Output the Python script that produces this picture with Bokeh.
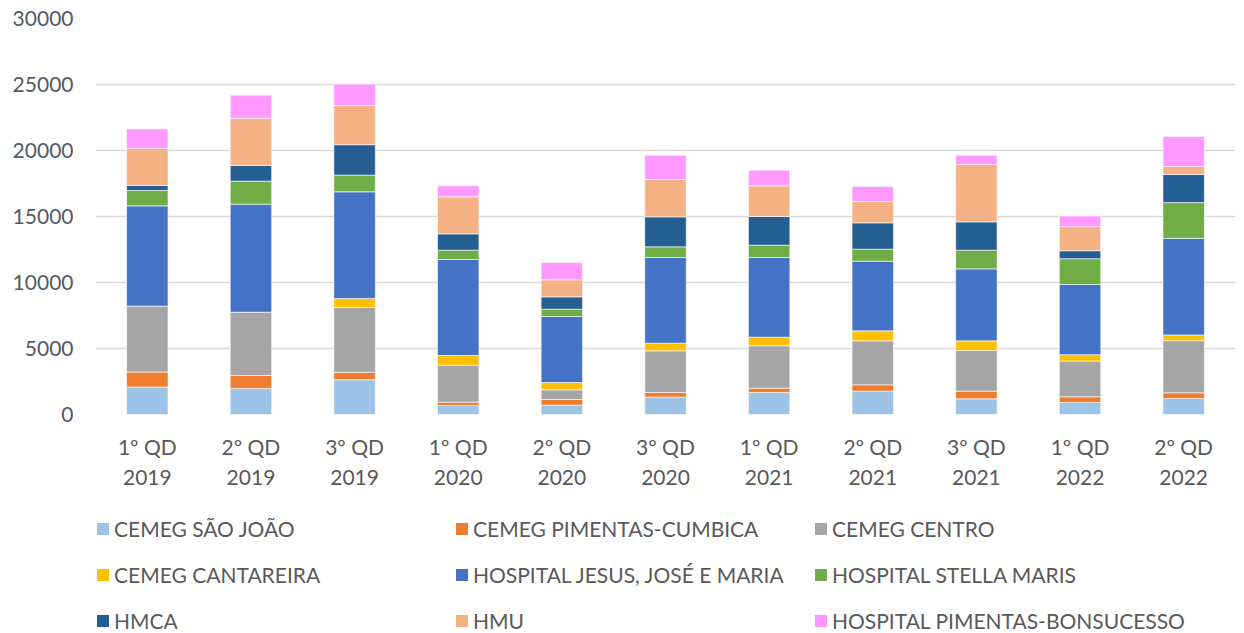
from bokeh.plotting import figure
from bokeh.layouts import column
from bokeh.models import ColumnDataSource, FactorRange, Range1d, FixedTicker, Legend, LegendItem
from bokeh.embed import file_html
from bokeh.resources import INLINE

categories = ["1º QD\n2019", "2º QD\n2019", "3º QD\n2019",
              "1º QD\n2020", "2º QD\n2020", "3º QD\n2020",
              "1º QD\n2021", "2º QD\n2021", "3º QD\n2021",
              "1º QD\n2022", "2º QD\n2022"]

series_names = ["CEMEG SÃO JOÃO", "CEMEG PIMENTAS-CUMBICA", "CEMEG CENTRO",
                "CEMEG CANTAREIRA", "HOSPITAL JESUS, JOSÉ E MARIA", "HOSPITAL STELLA MARIS",
                "HMCA", "HMU", "HOSPITAL PIMENTAS-BONSUCESSO"]

cemeg_sao_joao = [2077, 1976, 2634, 682, 707, 1313, 1667, 1768, 1187, 912, 1215]
cemeg_pimentas_cumbica = [1140, 988, 558, 252, 429, 354, 328, 479, 581, 430, 431]
cemeg_centro = [4990, 4787, 4914, 2803, 733, 3156, 3207, 3333, 3080, 2709, 3950]
cemeg_cantareira = [0, 0, 684, 732, 555, 581, 656, 758, 732, 481, 430]
hospital_jjm = [7600, 8182, 8080, 7272, 5000, 6489, 6035, 5277, 5454, 5317, 7318]
hospital_stella_maris = [1165, 1748, 1267, 707, 555, 808, 934, 909, 1414, 1950, 2709]
hmca = [380, 1190, 2305, 1238, 934, 2272, 2172, 1995, 2147, 608, 2127]
hmu = [2812, 3572, 2964, 2802, 1288, 2828, 2323, 1616, 4343, 1823, 607]
hospital_pimentas_bonsucesso = [1469, 1747, 1621, 834, 1313, 1844, 1186, 1136, 707, 810, 2279]

y_ticks = [0, 5000, 10000, 15000, 20000, 25000, 30000]

colors = ["#9DC3E6", "#ED7D31", "#A5A5A5", "#FFC000", "#4472C4",
          "#70AD47", "#255E91", "#F4B183", "#FF99FF"]

keys = ["s0", "s1", "s2", "s3", "s4", "s5", "s6", "s7", "s8"]
values = [cemeg_sao_joao, cemeg_pimentas_cumbica, cemeg_centro, cemeg_cantareira,
          hospital_jjm, hospital_stella_maris, hmca, hmu, hospital_pimentas_bonsucesso]

data = {"cat": categories}
for k, v in zip(keys, values):
    data[k] = v
source = ColumnDataSource(data)

FONT = "Lato"
TXT = "#595959"

# ---- main chart ----
p = figure(width=1244, height=500, x_range=FactorRange(factors=categories, range_padding=0),
           y_range=Range1d(0, 30000), output_backend="svg", toolbar_location=None,
           min_border_left=95, min_border_right=9, min_border_top=18, min_border_bottom=86)
p.outline_line_color = None

p.vbar_stack(keys, x="cat", width=0.4, color=colors, source=source,
             line_color="white", line_width=0.6)

p.xgrid.grid_line_color = None
p.ygrid.grid_line_color = "#D9D9D9"
p.ygrid.grid_line_width = 1.5
p.yaxis.ticker = FixedTicker(ticks=y_ticks)
p.yaxis.axis_line_color = None
p.yaxis.major_tick_line_color = None
p.yaxis.minor_tick_line_color = None
p.yaxis.major_tick_out = 0
p.yaxis.major_label_standoff = 22
p.xaxis.axis_line_color = None
p.xaxis.major_tick_line_color = None
p.xaxis.major_tick_out = 0
p.xaxis.major_label_standoff = 19
for ax in (p.xaxis[0], p.yaxis[0]):
    ax.major_label_text_font = FONT
    ax.major_label_text_font_size = "21px"
    ax.major_label_text_color = TXT

# ---- legend strip (same series, hidden renderers; only the legend shows) ----
p2 = figure(width=1244, height=133, x_range=FactorRange(factors=categories, range_padding=0),
            y_range=Range1d(0, 30000), output_backend="svg", toolbar_location=None,
            x_axis_location=None, y_axis_location=None,
            min_border_left=95, min_border_right=9, min_border_top=0, min_border_bottom=0)
p2.grid.visible = False
p2.outline_line_color = None

legend_renderers = p2.vbar_stack(keys, x="cat", width=0.4, color=colors, source=source,
                                 line_color=None)
for r in legend_renderers:
    r.visible = False
items = [LegendItem(label=name, renderers=[r]) for name, r in zip(series_names, legend_renderers)]

lg = Legend(items=items, orientation="horizontal", ncols=3, location=(0, 0),
            label_text_font=FONT, label_text_font_size="21px", label_text_color=TXT,
            glyph_width=15, glyph_height=15, label_standoff=4, label_width=320,
            label_height=26, spacing=20, padding=0, margin=0,
            inactive_fill_alpha=0,
            border_line_color=None, background_fill_alpha=0)
p2.add_layout(lg, "center")

layout = column(p, p2, spacing=0)
open("out.html", "w").write(file_html(layout, INLINE))
